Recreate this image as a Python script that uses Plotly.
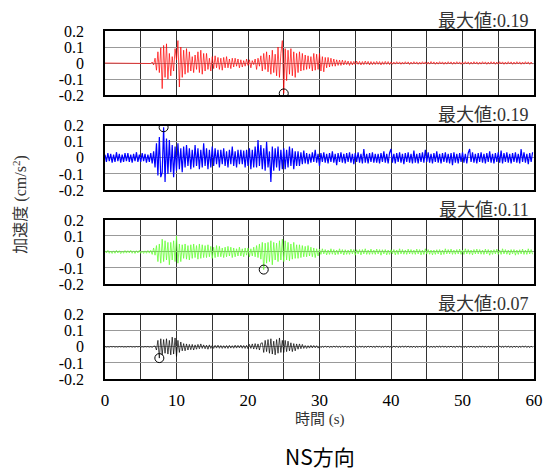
import numpy as np
import plotly.graph_objects as go

# Acceleration samples every 0.2 s, in units of 0.001 cm/s^2
red_vals = [
    0,0,0,0,0,0,0,0,0,0,
    0,0,0,0,0,0,0,0,0,0,
    0,0,0,0,0,0,0,0,0,0,
    0,1,-3,6,-12, 30,-45,70,-60,95,
    -160,110,-90,120,-100, 60,-80,40,-50,90,
    20,140,-150,100,-90, 80,-70,90,-60,70,
    -50,40,-60,50,-40, 70,-60,80,-70,60,
    -50,60,-40,30,-50, 40,-35,45,-30,35,
    -40,30,-45,35,-30, 40,-30,25,-35,30,
    -25,30,-20,25,-30, 20,-25,15,-20,25,
    -15,20,-30,15,-10, 25,-40,30,-20,45,
    -50,60,-40,70,-55, 50,-70,80,-60,55,
    -80,100,-90,60,140, -190,90,-110,80,-70,
    90,-80,70,-90,60, -60,70,-50,60,-45,
    50,-40,45,-35,40, -50,60,-45,55,-40,
    60,-50,40,-55,35, -30,35,-25,30,-20,
    25,-20,20,-15,18, -15,18,-12,15,-10,
    12,-15,10,-12,10, -10,12,-8,10,-12,
    9,-10,12,-8,10, -12,9,-10,8,-9,
    10,-8,9,-12,8, -9,10,-8,9,-10,
    7,-8,6,-7,8, -6,7,-8,6,-7,
    8,-6,7,-9,6, -7,8,-6,7,-8,
    6,-7,8,-6,7, -8,6,-7,9,-6,
    7,-8,6,-7,8, -6,7,-8,6,-7,
    8,-6,7,-8,6, -7,8,-6,7,-8,
    6,-7,8,-6,7, -8,6,-7,8,-6,
    7,-8,6,-7,8, -6,7,-8,6,-7,
    8,-6,7,-8,6, -7,8,-6,7,-8,
    6,-7,8,-6,7, -8,6,-7,8,-6,
    7,-8,6,-7,8, -6,7,-8,6,-7,
]

blue_vals = [
    20,-25,30,-20,25, -30,20,-25,35,-20,
    25,-30,20,-25,30, -20,30,-25,20,-30,
    25,-20,35,-25,20, -25,30,-20,25,-30,
    20,-25,30,-35,40, -60,90,-110,130,-120,
    -90,190,-150,120,-100, 110,-90,80,-120,70,
    -80,90,-70,60,-90, 70,-60,80,-50,60,
    -70,50,-60,80,-50, 60,-70,50,-60,90,
    -50,60,-70,50,-60, 70,-50,60,-40,50,
    -60,50,-40,60,-50, 40,-60,50,-40,70,
    -50,40,-60,50,-40, 50,-40,45,-60,50,
    -50,60,-70,50,-60, 70,-60,110,-50,80,
    -70,60,-80,100,-60, 40,-150,70,-80,60,
    -60,70,-80,50,-70, 60,-70,50,-60,70,
    -50,60,-70,40,-50, 40,-50,35,-40,45,
    -35,30,-40,25,-30, 35,-25,50,-30,25,
    -50,30,-25,35,-30, 25,-35,30,-25,40,
    -30,25,-45,30,-25, 35,-30,25,-35,30,
    -25,35,-30,25,-40, 30,-25,35,-30,25,
    -35,55,-30,25,-35, 30,-25,35,-30,25,
    -30,25,-35,30,-25, 40,-30,25,-35,30,
    55,-30,25,-35,30, -25,35,-30,25,-40,
    30,-25,35,-30,25, -35,45,-30,25,-35,
    30,-25,35,-30,50, -25,35,-30,25,-35,
    30,-25,40,-30,25, -35,30,-25,35,-30,
    25,-35,30,-45,35, -30,25,-35,30,-25,
    35,-30,25,-35,30, 55,-25,35,-30,25,
    -35,30,-25,35,-30, 25,-35,30,-25,40,
    -30,25,-35,30,-25, 35,-30,45,-35,30,
    -25,35,-30,25,-35, 30,-25,35,-30,25,
    -35,55,-25,35,-30, 25,-40,30,-25,35,
]

green_vals = [
    8,-6,10,-8,6, -9,7,-8,10,-6,
    8,-10,6,-8,9, -7,8,-6,10,-8,
    7,-9,8,-6,10, -8,6,-9,7,-8,
    9,-7,10,-15,25, -20,40,-60,50,-70,
    80,-60,70,-50,60, -80,60,-50,70,-60,
    100,-70,50,-60,45, -40,50,-45,40,-50,
    45,-40,50,-35,40, -45,50,-40,45,-35,
    40,-35,45,-30,35, -40,30,-35,40,-30,
    35,-30,25,-35,30, -30,35,-25,30,-35,
    25,-30,20,-25,30, -25,20,-30,25,-20,
    25,-30,20,-25,30, -30,40,-35,50,-45,
    60,-110,55,-70,60, -60,70,-80,60,-50,
    55,-60,70,-50,80, -60,70,-50,60,-55,
    50,-45,60,-40,45, -40,45,-35,40,-30,
    35,-30,40,-25,30, -30,25,-35,20,-25,
    18,-15,20,-12,15, -18,12,-15,20,-14,
    15,-18,12,-15,20, -12,15,-18,14,-15,
    12,-15,18,-12,15, -20,14,-12,15,-18,
    15,-12,20,-15,12, -15,18,-14,12,-15,
    18,-12,15,-20,14, -12,15,-18,12,-15,
    14,-12,15,-18,12, -15,20,-12,15,-14,
    12,-15,18,-12,15, -14,12,-15,18,-12,
    15,-18,12,-15,20, -12,15,-14,12,-18,
    12,-15,14,-12,15, -18,12,-15,20,-12,
    15,-12,18,-15,12, -14,15,-12,18,-15,
    12,-15,20,-12,15, -14,12,-18,15,-12,
    18,-12,15,-14,12, -15,18,-12,15,-20,
    12,-15,14,-12,18, -15,12,-15,20,-12,
    15,-14,12,-18,15, -12,15,-20,12,-15,
    14,-12,18,-15,12, -15,20,-12,15,-14,
]

black_vals = [
    2,-2,1,-2,2, -1,2,-2,1,-2,
    2,-1,2,-2,1, -2,2,-1,2,-2,
    1,-2,2,-1,2, -2,1,-2,2,-1,
    2,-2,1,-3,3, 5,-20,40,-70,50,
    -50,45,-40,50,-45, 40,-50,60,-45,55,
    -60,40,-35,30,-25, 20,-25,18,-20,15,
    -18,15,-20,12,-15, 15,-12,18,-10,12,
    -12,10,-15,12,-10, 8,-10,9,-8,10,
    -9,8,-10,7,-9, 8,-10,9,-8,7,
    -9,10,-8,9,-7, 10,-9,8,-10,9,
    -12,15,-10,18,-14, 20,-15,18,-20,22,
    25,-35,40,-30,45, -40,50,-45,35,-50,
    45,-40,55,-35,40, -35,40,-30,35,-25,
    25,-30,20,-25,18, -15,18,-12,15,-10,
    8,-10,7,-8,9, -7,8,-6,7,-8,
    4,-5,3,-4,5, -3,4,-5,3,-4,
    5,-3,4,-4,3, -5,4,-3,5,-4,
    3,-4,5,-3,4, -4,3,-5,4,-3,
    4,-5,3,-4,5, -3,4,-4,3,-5,
    5,-3,4,-5,3, -4,5,-3,4,-4,
    3,-4,5,-3,4, -5,3,-4,5,-3,
    4,-3,5,-4,3, -4,4,-5,3,-4,
    5,-4,3,-4,5, -3,4,-5,3,-4,
    3,-5,4,-3,4, -4,5,-3,4,-5,
    4,-3,5,-4,3, -5,4,-3,5,-4,
    5,-4,3,-5,4, -3,4,-4,3,-5,
    3,-4,4,-3,5, -4,3,-5,4,-3,
    4,-5,3,-4,5, -3,5,-4,3,-4,
    5,-3,4,-4,3, -5,4,-3,4,-5,
    3,-4,5,-3,4, -4,3,-5,4,-3,
]

peak_t = [25.0, 8.2, 22.2, 7.6]
peak_v = [-0.19, 0.19, -0.11, -0.07]
max_labels = ["0.19", "0.19", "0.11", "0.07"]
colors = ["#ff0000", "#0000ff", "#66ff33", "#000000"]
widths = [0.7, 1.2, 0.8, 0.7]

y_ticks = [-0.2, -0.1, 0, 0.1, 0.2]
y_tick_text = ["-0.2", "-0.1", "0", "0.1", "0.2"]

series = [red_vals, blue_vals, green_vals, black_vals]
for s in series:
    assert len(s) == 300, len(s)

dt = 0.2
t = np.arange(300) * dt

SERIF = "Liberation Serif, DejaVu Serif, FreeSerif, Noto Serif, serif"
CJK = "Liberation Serif, DejaVu Serif, Noto Sans CJK JP"

domains = [[0.816, 1.0], [0.543, 0.728], [0.273, 0.457], [0.0, 0.185]]

fig = go.Figure()
layout = {}
annotations = []
for i in range(4):
    xs = "" if i == 0 else str(i + 1)
    vals = np.array(series[i]) / 1000.0
    fig.add_trace(go.Scatter(x=t, y=vals, mode="lines",
                             line=dict(color=colors[i], width=widths[i]),
                             xaxis="x" + xs, yaxis="y" + xs, showlegend=False,
                             hoverinfo="skip"))
    fig.add_trace(go.Scatter(x=[peak_t[i]], y=[peak_v[i]], mode="markers",
                             marker=dict(symbol="circle-open", size=9, color="black",
                                         line=dict(width=1, color="black")),
                             xaxis="x" + xs, yaxis="y" + xs, showlegend=False,
                             hoverinfo="skip"))
    bottom = (i == 3)
    layout["xaxis" + xs] = dict(
        domain=[0, 1], anchor="y" + xs, range=[0, 60],
        tickmode="linear", tick0=0, dtick=10,
        showticklabels=bottom, ticks="",
        showgrid=True, gridcolor="#333333", gridwidth=1,
        minor=dict(dtick=5, showgrid=True, gridcolor="#333333", gridwidth=1, ticks=""),
        showline=True, mirror=True, linecolor="black", linewidth=1.5,
        zeroline=False,
        tickfont=dict(family=SERIF, size=17, color="black"),
        ticklabelstandoff=5,
    )
    layout["yaxis" + xs] = dict(
        domain=domains[i], anchor="x" + xs, range=[-0.2, 0.2],
        tickmode="array", tickvals=y_ticks, ticktext=y_tick_text,
        ticks="", showgrid=True, gridcolor="#999999", gridwidth=1,
        showline=True, mirror=True, linecolor="black", linewidth=1.5,
        zeroline=False,
        tickfont=dict(family=SERIF, size=16, color="black"),
        ticklabelstandoff=16,
    )
    annotations.append(dict(
        text="最大値:" + max_labels[i], xref="paper", yref="y" + xs + " domain",
        x=0.994, y=1.16, xanchor="right", yanchor="middle", showarrow=False,
        font=dict(family=CJK, size=18, color="#333333"),
    ))

annotations.append(dict(
    text="時間 (s)", xref="paper", yref="paper", x=0.5, y=-0.115,
    xanchor="center", yanchor="middle", showarrow=False,
    font=dict(family=CJK, size=15, color="#333333"),
))
annotations.append(dict(
    text="加速度 (cm/s<sup>2</sup>)", xref="paper", yref="paper",
    x=-0.199, y=0.5, xanchor="center", yanchor="middle", textangle=-90,
    showarrow=False, font=dict(family=CJK, size=16, color="#333333"),
))
annotations.append(dict(
    text="NS方向", xref="paper", yref="paper", x=0.5, y=-0.222,
    xanchor="center", yanchor="middle", showarrow=False,
    font=dict(family="Noto Sans CJK JP", size=21, color="black"),
))

fig.update_layout(
    width=554, height=470,
    margin=dict(l=105, r=11, t=31, b=91),
    paper_bgcolor="white", plot_bgcolor="white",
    font=dict(family=SERIF),
    annotations=annotations,
    **layout,
)

fig.write_html("out.html", config={"displayModeBar": False},
               post_script="document.body.style.margin='0';document.body.style.overflow='hidden';")
